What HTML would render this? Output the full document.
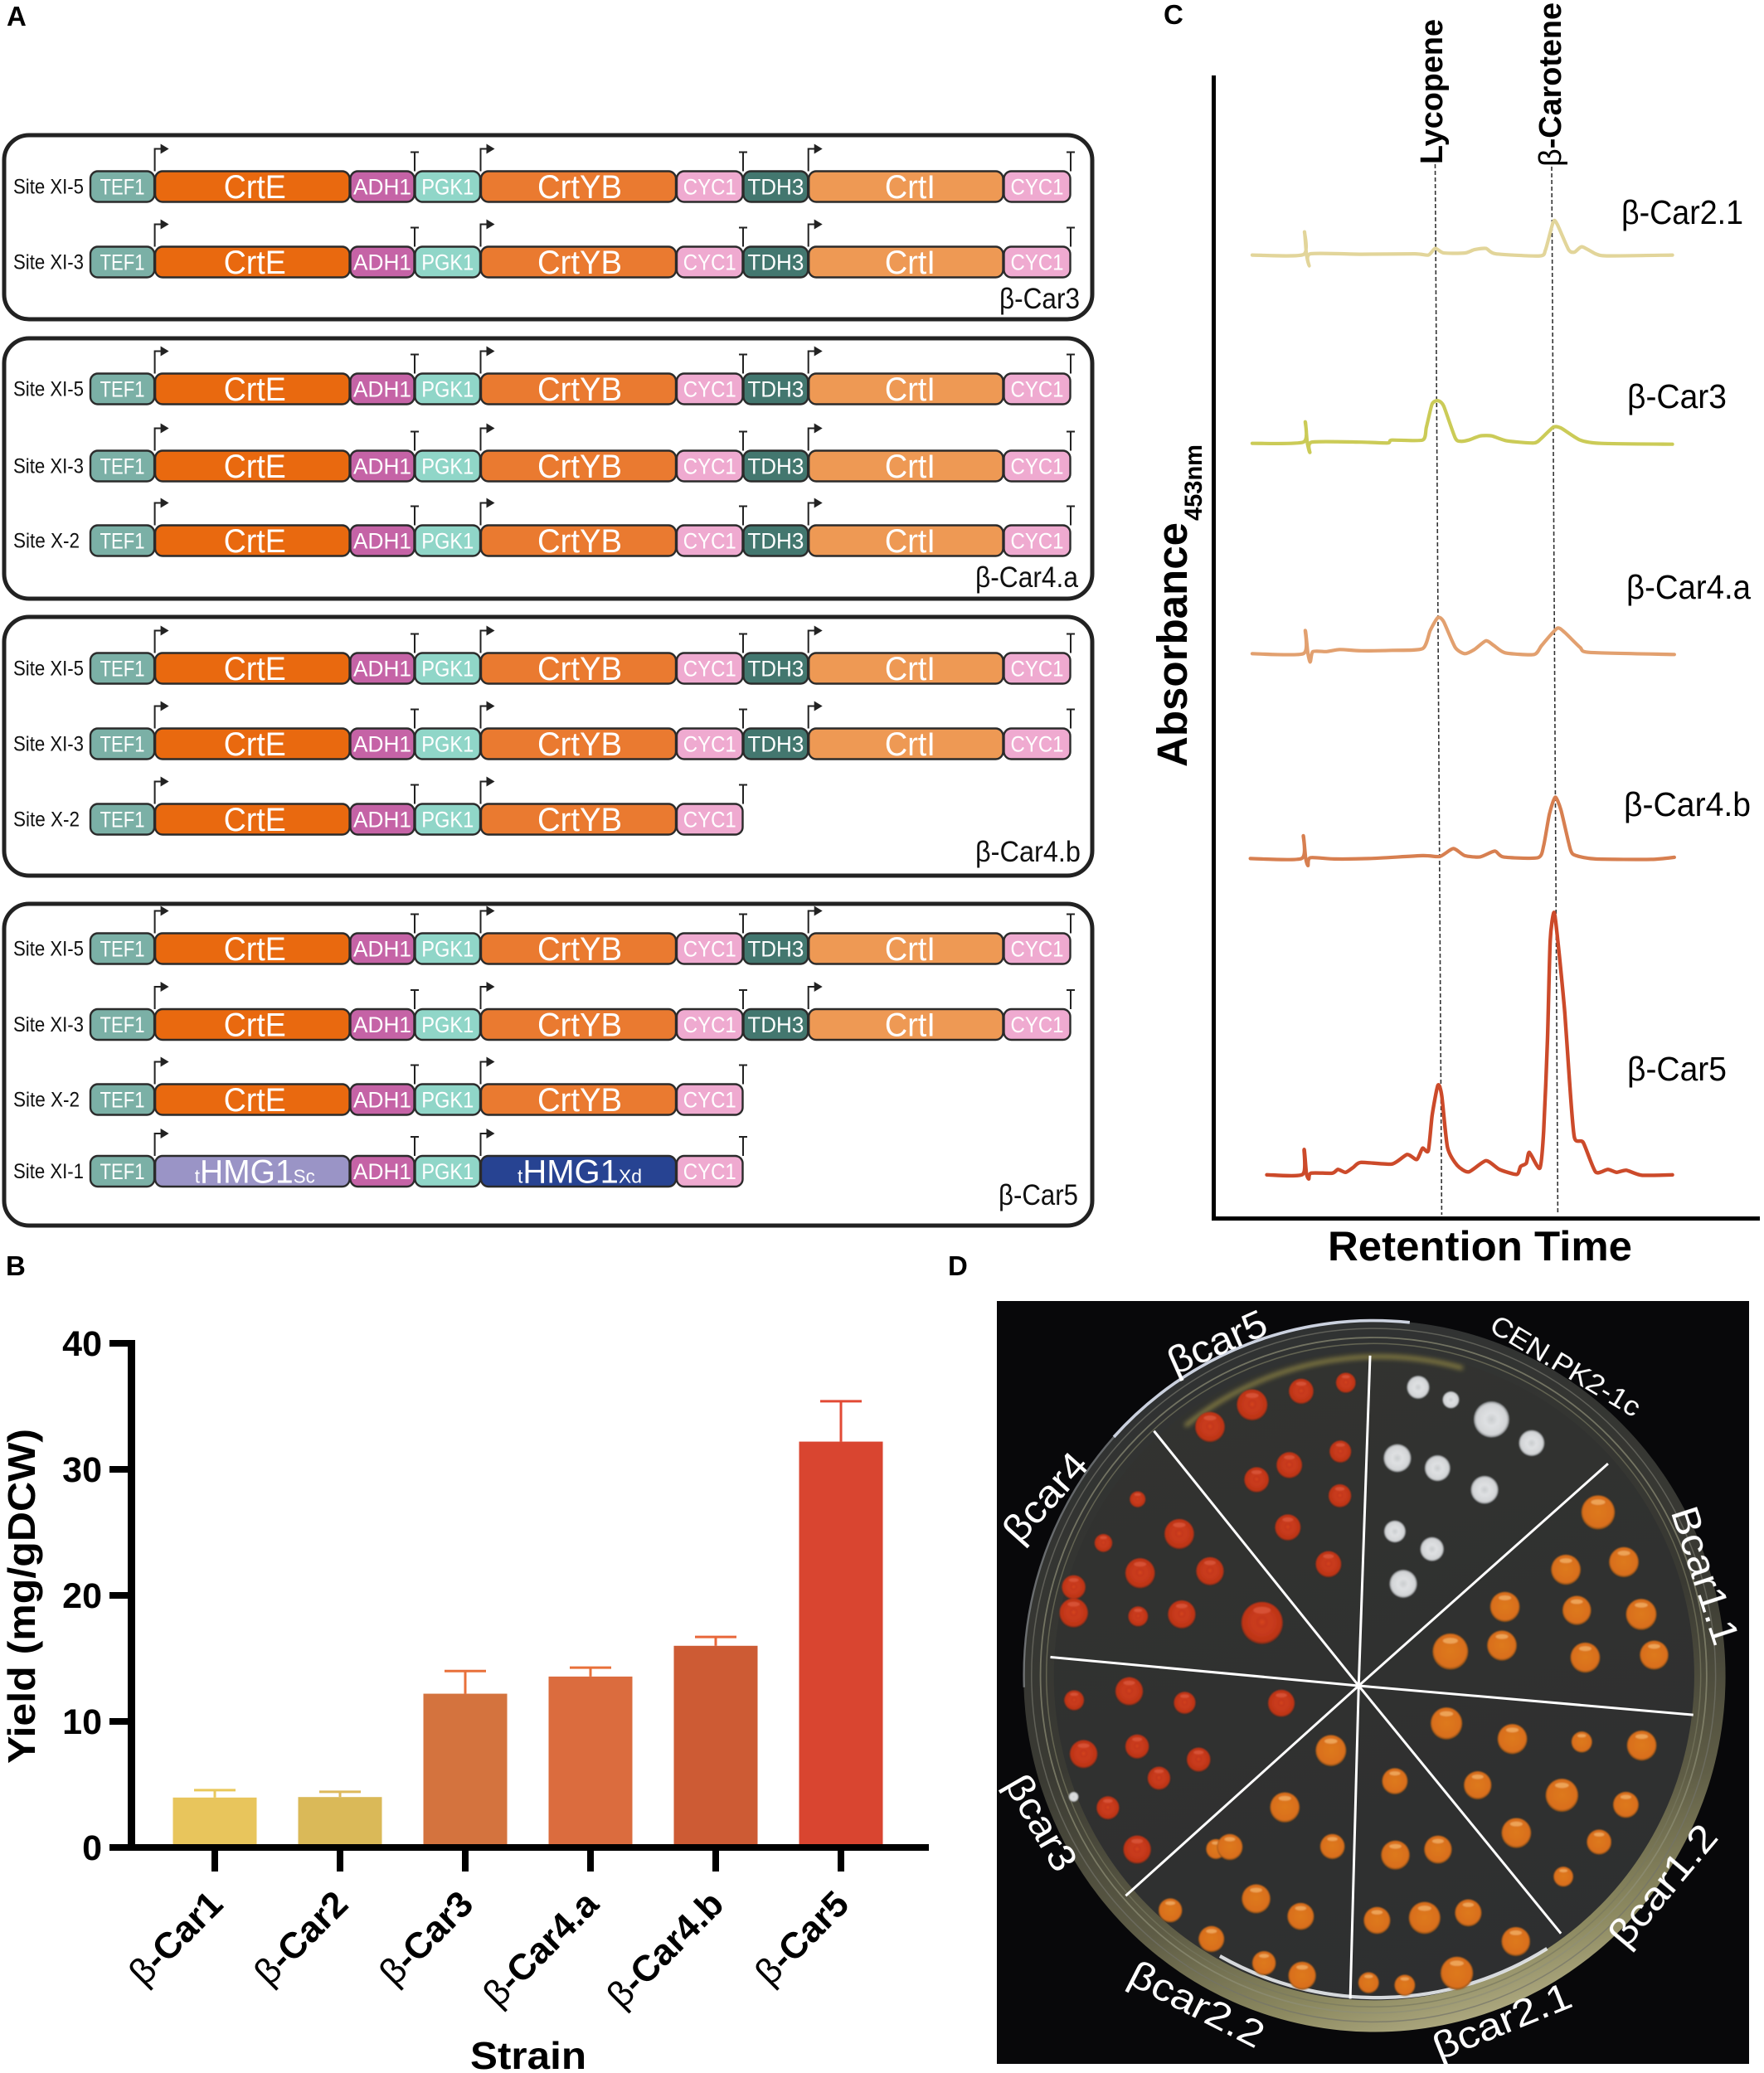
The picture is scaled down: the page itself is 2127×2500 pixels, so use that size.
<!DOCTYPE html>
<html lang="en">
<head>
<meta charset="utf-8">
<title>Beta-carotene strain engineering figure</title>
<style>
html,body{margin:0;padding:0;background:#fff;}
svg{display:block;font-family:"Liberation Sans",sans-serif;}
</style>
</head>
<body>
<svg id="fig" xmlns="http://www.w3.org/2000/svg" width="2127" height="2500" viewBox="0 0 2127 2500">
<defs>
<radialGradient id="redC" cx="50%" cy="48%" r="52%"><stop offset="0" stop-color="#d8461f"/><stop offset=".18" stop-color="#c5381a"/><stop offset=".4" stop-color="#ca3c1c"/><stop offset=".88" stop-color="#bd3418"/><stop offset="1" stop-color="#6e2a14"/></radialGradient>
<radialGradient id="orgC" cx="50%" cy="48%" r="52%"><stop offset="0" stop-color="#de7a20"/><stop offset=".85" stop-color="#d96f1b"/><stop offset="1" stop-color="#7f4a18"/></radialGradient>
<radialGradient id="whtC" cx="50%" cy="50%" r="52%"><stop offset="0" stop-color="#c9ccce"/><stop offset=".35" stop-color="#dfe1e3"/><stop offset=".82" stop-color="#d2d4d6"/><stop offset="1" stop-color="#666a6c"/></radialGradient>
<linearGradient id="rimG" x1="0.35" y1="0" x2="0.65" y2="1"><stop offset="0" stop-color="#2f3132"/><stop offset=".5" stop-color="#3a3a33"/><stop offset=".75" stop-color="#5f5d46"/><stop offset=".9" stop-color="#8c8960"/><stop offset="1" stop-color="#b3ae85"/></linearGradient>
<linearGradient id="agarG" x1="0.35" y1="0" x2="0.65" y2="1"><stop offset="0" stop-color="#323330"/><stop offset="1" stop-color="#2e2f30"/></linearGradient>
<filter id="soft" filterUnits="userSpaceOnUse" x="0" y="0" width="1600" height="1600"><feGaussianBlur stdDeviation="5"/></filter>
<filter id="soft2" filterUnits="userSpaceOnUse" x="0" y="0" width="1600" height="1600"><feGaussianBlur stdDeviation="1.2"/></filter>
</defs>
<rect width="2127" height="2500" fill="#fff"/>

<text x="8" y="31" font-size="33" font-weight="bold">A</text>
<text x="7" y="1538" font-size="33" font-weight="bold">B</text>
<text x="1403" y="29" font-size="33" font-weight="bold">C</text>
<text x="1143" y="1538" font-size="33" font-weight="bold">D</text>

<!-- Panel A -->
<g id="panelA"></g>

<!-- Panel B -->
<g id="panelB">
<text transform="translate(42,1925) rotate(-90)" text-anchor="middle" font-size="46" font-weight="bold" textLength="404" lengthAdjust="spacingAndGlyphs">Yield (mg/gDCW)</text>
<text x="637" y="2495" text-anchor="middle" font-size="46" font-weight="bold" textLength="140" lengthAdjust="spacingAndGlyphs">Strain</text>
</g>

<!-- Panel C -->
<g id="panelC">
<rect x="1461" y="91" width="5" height="1381" fill="#000"/>
<rect x="1461" y="1467" width="661" height="5" fill="#000"/>
<line x1="1730.5" y1="198" x2="1738.4" y2="1465" stroke="#333" stroke-width="1.6" stroke-dasharray="5 3"/>
<line x1="1871" y1="201" x2="1878.4" y2="1465" stroke="#333" stroke-width="1.6" stroke-dasharray="5 3"/>
<text transform="translate(1739,198) rotate(-90)" font-size="38" font-weight="bold" textLength="175" lengthAdjust="spacingAndGlyphs">Lycopene</text>
<text transform="translate(1882,201) rotate(-90)" font-size="38" font-weight="bold" textLength="198" lengthAdjust="spacingAndGlyphs"><tspan font-weight="normal">β</tspan>-Carotene</text>
<text transform="translate(1431,925) rotate(-90)" font-size="51" font-weight="bold" textLength="295" lengthAdjust="spacingAndGlyphs">Absorbance</text>
<text transform="translate(1449,628) rotate(-90)" font-size="30" font-weight="bold" textLength="92" lengthAdjust="spacingAndGlyphs">453nm</text>
<text x="1601" y="1520" font-size="50" font-weight="bold" textLength="367" lengthAdjust="spacingAndGlyphs">Retention Time</text>
<text x="1955" y="270" font-size="41" textLength="147" lengthAdjust="spacingAndGlyphs">β-Car2.1</text>
<text x="1962" y="492" font-size="41" textLength="120" lengthAdjust="spacingAndGlyphs">β-Car3</text>
<text x="1961" y="722" font-size="41" textLength="150" lengthAdjust="spacingAndGlyphs">β-Car4.a</text>
<text x="1958" y="984" font-size="41" textLength="153" lengthAdjust="spacingAndGlyphs">β-Car4.b</text>
<text x="1962" y="1303" font-size="41" textLength="120" lengthAdjust="spacingAndGlyphs">β-Car5</text>
</g>

<!-- Panel D -->
<g id="panelD">
<rect x="1202" y="1569" width="907" height="920" fill="#08080a"/>
<g transform="translate(1190,1550) scale(0.5977,0.606)">
<circle cx="782" cy="778" r="708" fill="url(#rimG)"/>
<circle cx="780" cy="776" r="690" fill="none" stroke="#74746a" stroke-width="2.5" opacity=".7"/>
<circle cx="780" cy="776" r="672" fill="none" stroke="#8f8f76" stroke-width="3" opacity=".7"/>
<circle cx="780" cy="776" r="660" fill="none" stroke="#77775f" stroke-width="2.5" opacity=".7"/>
<path d="M256 302 A708 708 0 0 1 853 74" fill="none" stroke="#dfe6f4" stroke-width="6" opacity=".9"/>
<path d="M75 800 A708 708 0 0 1 256 302" fill="none" stroke="#8a8e92" stroke-width="4" opacity=".7"/>
<circle cx="781" cy="777" r="646" fill="url(#agarG)"/>
<path d="M400 280 A625 625 0 0 1 960 165" fill="none" stroke="#c4b450" stroke-width="8" opacity=".6" filter="url(#soft)"/>
<path d="M470 1335 A650 650 0 0 0 1130 1320" fill="none" stroke="#e9ecef" stroke-width="7" opacity=".9"/>
<line x1="750" y1="797" x2="773" y2="140" stroke="#fff" stroke-width="5"/>
<line x1="750" y1="797" x2="1253" y2="355" stroke="#fff" stroke-width="5"/>
<line x1="750" y1="797" x2="1425" y2="855" stroke="#fff" stroke-width="5"/>
<line x1="750" y1="797" x2="1158" y2="1290" stroke="#fff" stroke-width="5"/>
<line x1="750" y1="797" x2="733" y2="1420" stroke="#fff" stroke-width="5"/>
<line x1="750" y1="797" x2="280" y2="1215" stroke="#fff" stroke-width="5"/>
<line x1="750" y1="797" x2="128" y2="740" stroke="#fff" stroke-width="5"/>
<line x1="750" y1="797" x2="337" y2="290" stroke="#fff" stroke-width="5"/>
<g id="colonies" filter="url(#soft2)"></g>
</g>
<text transform="translate(1474,1633) rotate(-24)" text-anchor="middle" font-size="46" fill="#fff" textLength="126" lengthAdjust="spacingAndGlyphs">βcar5</text>
<text transform="translate(1882,1657) rotate(31)" text-anchor="middle" font-size="33" fill="#fff" textLength="205" lengthAdjust="spacingAndGlyphs">CEN.PK2-1c</text>
<text transform="translate(2041,1905) rotate(72)" text-anchor="middle" font-size="46" fill="#fff" textLength="172" lengthAdjust="spacingAndGlyphs">Bcar1.1</text>
<text transform="translate(2017,2284) rotate(-50)" text-anchor="middle" font-size="46" fill="#fff" textLength="176" lengthAdjust="spacingAndGlyphs">βcar1.2</text>
<text transform="translate(1817,2452) rotate(-22)" text-anchor="middle" font-size="46" fill="#fff" textLength="176" lengthAdjust="spacingAndGlyphs">βcar2.1</text>
<text transform="translate(1436,2431) rotate(27)" text-anchor="middle" font-size="46" fill="#fff" textLength="176" lengthAdjust="spacingAndGlyphs">βcar2.2</text>
<text transform="translate(1242,2206) rotate(60)" text-anchor="middle" font-size="46" fill="#fff" textLength="126" lengthAdjust="spacingAndGlyphs">βcar3</text>
<text transform="translate(1272,1816) rotate(-48)" text-anchor="middle" font-size="46" fill="#fff" textLength="128" lengthAdjust="spacingAndGlyphs">βcar4</text>
</g>
</svg>

<script>
/* ---------- Panel B data ---------- */
const strains = ['-Car1','-Car2','-Car3','-Car4.a','-Car4.b','-Car5'];
const yields = [3.96,4.0,12.2,13.56,16.0,32.2];
const errors = [0.59,0.42,1.8,0.71,0.7,3.2];
const yTicks = [0,10,20,30,40];
const barColors = ['#e8c55c','#dab958','#d4733e','#db6c3e','#cd5b34','#d94530'];
const errColors = ['#e9c85b','#ddb95b','#e8703a','#e8703a','#e8673a','#e24a35'];

/* ---------- Panel C data (time, absorbance) ---------- */
const car21Time = [237,370,373,378,385,388,520,660,695,713,735,790,815,845,870,985,1000,1020,1030,1060,1075,1095,1130,1160,1330];
const car21Abs = [0,1,56,3,-26,3,2,3,0,16,5,5,13,16,3,-2,13,80,75,13,7,20,3,-2,0];
const car3Time = [237,370,375,380,387,392,520,590,600,680,690,705,720,735,765,780,800,830,860,900,970,990,1020,1040,1090,1145,1330];
const car3Abs = [0,3,52,3,-22,3,3,1,8,8,39,95,103,90,13,5,8,18,18,6,1,13,39,37,8,0,-2];
const car4aTime = [237,370,375,382,388,395,430,465,520,600,680,700,720,735,765,790,815,845,865,895,970,990,1030,1050,1090,1115,1335];
const car4aAbs = [0,0,56,0,-20,5,5,10,7,8,12,56,87,77,15,0,10,31,20,2,-2,20,61,51,15,3,-2];
const car4bTime = [232,365,370,376,382,388,450,540,680,725,760,790,830,868,890,980,995,1010,1025,1040,1065,1080,1130,1275,1335];
const car4bAbs = [0,0,55,2,-17,2,-1,0,7,5,24,7,4,18,4,2,31,107,148,117,21,7,-1,-2,3];
const car5Time = [275,368,372,378,384,390,445,460,480,500,520,600,640,665,680,695,705,720,730,745,770,800,845,880,925,935,950,958,985,995,1005,1012,1022,1032,1050,1062,1075,1098,1130,1162,1185,1210,1250,1330];
const car5Abs = [0,1,61,4,-10,4,4,13,6,18,30,26,49,37,64,58,143,216,191,66,23,7,34,13,1,20,28,54,16,105,325,564,633,564,391,229,90,78,7,13,6,11,-1,0];

/* ---------- Panel A structure ---------- */
const partNames = ['TEF1','CrtE','ADH1','PGK1','CrtYB','CYC1','TDH3','CrtI','CYC1'];
const partColors = ['#7bb0a6','#e9690f','#c563a6','#90d6c8','#ea7a30','#efaad0','#43776f','#ee9954','#efaad0'];
const labelWidths = [54,75,70,63,102,64,68,61,64];
const labelShifts = [0,3,0,0,1.5,0,0,5,0];

const NS = 'http://www.w3.org/2000/svg';
function make(tag, attrs, parent){
  const el = document.createElementNS(NS, tag);
  for (const k in attrs) el.setAttribute(k, attrs[k]);
  parent.appendChild(el);
  return el;
}

/* Panel A */
const panelA = document.getElementById('panelA');
const edges = [108.5,186.6,422,500,579.5,815.5,896,974.7,1210,1291];

function drawBox(y0, y1, label, lx, ly, lw){
  const box = make('rect',{x:5,y:y0,width:1312,height:y1-y0,rx:30,fill:'none',stroke:'#222','stroke-width':5},panelA);
  
  
  const t = make('text',{x:lx,y:ly,'font-size':35,textLength:lw,lengthAdjust:'spacingAndGlyphs',fill:'#111'},panelA);
  t.textContent = label;
  
  
}

function drawRow(site, cy, count, hmg, siteW){
  const s = make('text',{x:16,y:cy+8.5,'font-size':25,textLength:siteW,lengthAdjust:'spacingAndGlyphs',fill:'#111'},panelA);
  s.textContent = site;
  
  
  const top = cy-18.5;
  /* promoter arrows and terminators */
  [1,4,7].forEach(function(i){
    if (i >= count) return;
    const xp = edges[i];
    const p = make('path',{d:'M'+xp+' '+top+' V'+(top-27)+' H'+(xp+8),fill:'none',stroke:'#222','stroke-width':2},panelA);
    
    
    const h = make('path',{d:'M'+(xp+7)+' '+(top-33)+' L'+(xp+17)+' '+(top-27)+' L'+(xp+7)+' '+(top-21)+' Z',fill:'#222'},panelA);
    
    
  });
  [3,6,9].forEach(function(i){
    if (i > count) return;
    const xt = edges[i];
    const p = make('path',{d:'M'+xt+' '+top+' V'+(top-23)+' M'+(xt-5)+' '+(top-23)+' H'+(xt+5),fill:'none',stroke:'#222','stroke-width':2},panelA);
    
    
  });
  for (let i=0;i<count;i++){
    let fill = partColors[i];
    if (hmg && i===1) fill = '#9a94c6';
    if (hmg && i===4) fill = '#274392';
    const x0 = edges[i], x1 = edges[i+1];
    const r = make('rect',{x:x0+0.5,y:top,width:x1-x0-1,height:37,rx:9,fill:fill,stroke:'#2b2b2b','stroke-width':2.4},panelA);
    
    
    const big = (i===1||i===4||i===7);
    const mid = (x0+x1)/2 + labelShifts[i];
    const t = make('text',{x:mid,y:cy+(big?14:9.5),'text-anchor':'middle','font-size':big?40:27,fill:'#fff',textLength:labelWidths[i],lengthAdjust:'spacingAndGlyphs'},panelA);
    if (hmg && (i===1||i===4)){
      t.setAttribute('textLength', i===1?145:150);
      const a = make('tspan',{'font-size':23},t); a.textContent='t';
      const b = make('tspan',{},t); b.textContent='HMG1';
      const c = make('tspan',{'font-size':23}, t); c.textContent = i===1?'Sc':'Xd';
    } else {
      t.textContent = partNames[i];
    }
    
    
  }
}

drawBox(163,385,'β-Car3',1205,372,97);
drawRow('Site XI-5',225,9,false,85);
drawRow('Site XI-3',316,9,false,85);
drawBox(408,722,'β-Car4.a',1176,708,124);
drawRow('Site XI-5',469,9,false,85);
drawRow('Site XI-3',562,9,false,85);
drawRow('Site X-2',652,9,false,80);
drawBox(744,1056,'β-Car4.b',1176,1039,127);
drawRow('Site XI-5',806,9,false,85);
drawRow('Site XI-3',897,9,false,85);
drawRow('Site X-2',988,6,false,80);
drawBox(1090,1478,'β-Car5',1204,1453,96);
drawRow('Site XI-5',1144,9,false,85);
drawRow('Site XI-3',1235.5,9,false,85);
drawRow('Site X-2',1326,6,false,80);
drawRow('Site XI-1',1412.5,6,true,85);

/* Panel B */
const panelB = document.getElementById('panelB');
function yScale(v){ return 2228 - v*15.2; }
function xScale(i){ return 259 + i*151; }

strains.forEach(function(name,i){
  const x = xScale(i);
  const capY = yScale(yields[i]+errors[i]);
  const stem = make('line',{x1:x,x2:x,y1:yScale(yields[i]),y2:capY,stroke:errColors[i],'stroke-width':3},panelB);
  
  
  const cap = make('line',{x1:x-25,x2:x+25,y1:capY,y2:capY,stroke:errColors[i],'stroke-width':3},panelB);
  
  
  const bar = make('rect',{x:x-50.5,y:yScale(yields[i]),width:101,height:yScale(0)-yScale(yields[i]),fill:barColors[i]},panelB);
  
  
  const tick = make('rect',{x:x-4,y:yScale(0),width:8,height:29,fill:'#000'},panelB);
  
  
  const lab = make('text',{transform:'translate('+(x+12)+',2299) rotate(-45)','text-anchor':'end','font-size':44,'font-weight':'bold'},panelB);
  const beta = make('tspan',{'font-weight':'normal'},lab);
  beta.textContent = 'β';
  const rest = make('tspan',{},lab);
  rest.textContent = name;
  
  
});
yTicks.forEach(function(v){
  const t = make('rect',{x:132,y:yScale(v)-4,width:31,height:8,fill:'#000'},panelB);
  
  
  const lab = make('text',{x:123,y:yScale(v)+15,'text-anchor':'end','font-size':43,'font-weight':'bold'},panelB);
  lab.textContent = String(v);
  
  
});
const yAxisB = make('rect',{x:154,y:yScale(40)-4,width:9,height:yScale(0)-yScale(40)+8,fill:'#000'},panelB);


const xAxisB = make('rect',{x:132,y:yScale(0)-4,width:988,height:8,fill:'#000'},panelB);



/* Panel C */
const panelC = document.getElementById('panelC');
function timeX(t){ return 1400 + t/2.157; }
function absY(a, base){ return base - a*0.5; }
function drawTrace(times, values, base, color, width, name){
  const pts = times.map(function(t,i){ return [timeX(t), absY(values[i],base)]; });
  let d = 'M' + pts[0][0].toFixed(1) + ' ' + pts[0][1].toFixed(1);
  const k = 0.11;
  for (let i=0;i<pts.length-1;i++){
    const p0 = pts[Math.max(i-1,0)], p1 = pts[i], p2 = pts[i+1], p3 = pts[Math.min(i+2,pts.length-1)];
    const c1x = p1[0]+(p2[0]-p0[0])*k, c1y = p1[1]+(p2[1]-p0[1])*k;
    const c2x = p2[0]-(p3[0]-p1[0])*k, c2y = p2[1]-(p3[1]-p1[1])*k;
    d += ' C'+c1x.toFixed(1)+' '+c1y.toFixed(1)+' '+c2x.toFixed(1)+' '+c2y.toFixed(1)+' '+p2[0].toFixed(1)+' '+p2[1].toFixed(1);
  }
  const p = make('path',{d:d,fill:'none',stroke:color,'stroke-width':width,'stroke-linejoin':'round','stroke-linecap':'round'},panelC);
  
  
}
drawTrace(car21Time,car21Abs,307.6,'#e2d59a',4.2,'trace-car2-1');
drawTrace(car3Time,car3Abs,534.7,'#cbcb57',4.2,'trace-car3');
drawTrace(car4aTime,car4aAbs,788.3,'#e2a06f',4.2,'trace-car4a');
drawTrace(car4bTime,car4bAbs,1035.4,'#d77f50',4.2,'trace-car4b');
drawTrace(car5Time,car5Abs,1416.8,'#cc4a2a',4.4,'trace-car5');

/* Panel D colonies */
const colonyGroup = document.getElementById('colonies');
const redColonies = [[450,282,30],[535,238,31],[634,211,25],[724,194,20],[610,358,26],[713,331,22],[544,387,25],[712,419,23],[607,482,26],[689,555,26],[304,426,16],[388,495,30],[235,513,18],[309,573,30],[450,569,28],[175,601,24],[175,652,29],[305,659,20],[393,655,28],[555,672,42],[176,826,20],[287,808,28],[399,831,22],[594,832,27],[195,933,28],[303,918,24],[427,944,24],[347,981,23],[244,1040,23],[303,1123,28]];
const whiteColonies = [[870,203,23],[936,228,17],[1018,267,36],[1099,314,26],[828,344,28],[909,364,26],[1004,407,28],[823,490,22],[898,525,24],[840,594,28],[175,1018,10]];
const orangeColonies = [[1233,452,34],[1285,551,30],[1168,566,30],[1045,640,30],[1190,647,29],[1320,655,31],[935,729,36],[1039,717,30],[1207,741,30],[1346,736,29],[927,872,32],[1060,903,30],[1200,909,21],[1321,916,30],[990,995,28],[1160,1015,33],[1289,1034,26],[1068,1090,30],[1235,1108,25],[1163,1177,20],[823,987,26],[824,1134,29],[910,1123,28],[787,1264,27],[883,1259,32],[971,1249,27],[1067,1306,29],[770,1388,21],[843,1393,21],[948,1369,33],[694,926,31],[601,1039,30],[697,1117,25],[462,1122,20],[490,1118,26],[543,1221,29],[633,1256,27],[370,1244,24],[453,1301,26],[559,1349,24],[636,1374,28]];
function drawColonies(list, fill, glint){
  list.forEach(function(c){
    const el = make('circle',{cx:c[0],cy:c[1],r:c[2],fill:fill},colonyGroup);
    
    
    if (glint){
      const g = make('ellipse',{cx:c[0],cy:c[1]-c[2]*0.6,rx:c[2]*0.42,ry:c[2]*0.16,fill:glint,opacity:0.85},colonyGroup);
      
      
    }
  });
}
drawColonies(redColonies,'url(#redC)','#d9563a');
drawColonies(whiteColonies,'url(#whtC)',null);
drawColonies(orangeColonies,'url(#orgC)','#f0ab62');
</script>
</body>
</html>
